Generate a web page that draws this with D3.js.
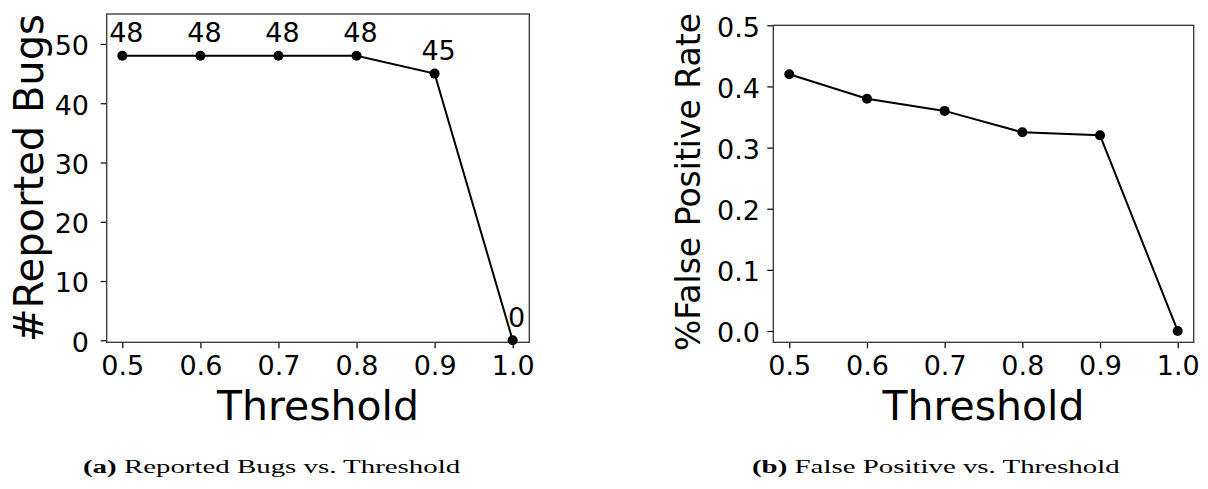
<!DOCTYPE html>
<html>
<head>
<meta charset="utf-8">
<script src="https://cdn.jsdelivr.net/npm/d3@7"></script>
<style>
  body { margin: 0; background: #fff; }
  .axis text { font-family: "DejaVu Sans", sans-serif; font-size: 27px; fill: #000; }
  .axis line { stroke: #000; stroke-width: 1.2; }
  .axis path { display: none; }
</style>
</head>
<body>
<svg width="1208" height="489"></svg>
<script>
const svg = d3.select("svg");

const thresholds = [0.5, 0.6, 0.7, 0.8, 0.9, 1.0];
const reportedBugs = [48, 48, 48, 48, 45, 0];
const falsePositiveRate = [0.42, 0.38, 0.36, 0.325, 0.32, 0.0];
const xTicks = [0.5, 0.6, 0.7, 0.8, 0.9, 1.0];
const bugTicks = [0, 10, 20, 30, 40, 50];
const fpTicks = [0.0, 0.1, 0.2, 0.3, 0.4, 0.5];

// panel a
const xa = d3.scaleLinear().domain([0.48, 1.0213]).range([106.7, 529.3]);
const ya = d3.scaleLinear().domain([-0.34, 55.06]).range([342.3, 14]);

// panel b
const xb = d3.scaleLinear().domain([0.4794, 1.0206]).range([773.3, 1193.7]);
const yb = d3.scaleLinear().domain([-0.0185, 0.5]).range([342.3, 25.3]);

function drawPanel(x, y, values, yTicks, yFmt, yPad) {
    const g = svg.append("g");
    const [x0, x1] = x.range();
    const [y0, y1] = y.range();

    g.append("g")
        .attr("class", "axis")
        .attr("transform", `translate(0,${y0})`)
        .call(d3.axisBottom(x).tickValues(xTicks).tickFormat(d3.format(".1f")).tickSize(6).tickPadding(8));

    g.append("g")
        .attr("class", "axis")
        .attr("transform", `translate(${x0},0)`)
        .call(d3.axisLeft(y).tickValues(yTicks).tickFormat(yFmt).tickSize(6).tickPadding(yPad))
        .selectAll("text").attr("dy", "0.4em");

    g.append("rect")
        .attr("x", x0).attr("y", y1)
        .attr("width", x1 - x0).attr("height", y0 - y1)
        .attr("fill", "none").attr("stroke", "#333").attr("stroke-width", 1.3);

    const pts = thresholds.map((t, i) => [t, values[i]]);
    const line = d3.line().x(d => x(d[0])).y(d => y(d[1]));

    g.append("path")
        .datum(pts)
        .attr("fill", "none")
        .attr("stroke", "#000")
        .attr("stroke-width", 2)
        .attr("d", line);

    g.selectAll("circle")
        .data(pts)
        .enter().append("circle")
        .attr("cx", d => x(d[0]))
        .attr("cy", d => y(d[1]))
        .attr("r", 5)
        .attr("fill", "#000");

    g.append("text")
        .attr("x", (x0 + x1) / 2)
        .attr("y", 420)
        .attr("text-anchor", "middle")
        .style("font-family", "DejaVu Sans, sans-serif")
        .style("font-size", "41px")
        .text("Threshold");

    return { g, pts };
}

const a = drawPanel(xa, ya, reportedBugs, bugTicks, d3.format("d"), 11.7);
const b = drawPanel(xb, yb, falsePositiveRate, fpTicks, d3.format(".1f"), 7.3);

// value labels on panel a
a.g.selectAll(".vlabel")
    .data(a.pts)
    .enter().append("text")
    .attr("class", "vlabel")
    .attr("x", d => xa(d[0]) + 4)
    .attr("y", d => ya(d[1]) - 13.5)
    .attr("text-anchor", "middle")
    .style("font-family", "DejaVu Sans, sans-serif")
    .style("font-size", "27px")
    .text(d => d[1]);

// y labels
svg.append("text")
    .attr("transform", `translate(43,178) rotate(-90)`)
    .attr("text-anchor", "middle")
    .style("font-family", "DejaVu Sans, sans-serif")
    .style("font-size", "40px")
    .text("#Reported Bugs");

svg.append("text")
    .attr("transform", `translate(700,182) rotate(-90)`)
    .attr("text-anchor", "middle")
    .style("font-family", "DejaVu Sans, sans-serif")
    .style("font-size", "33px")
    .text("%False Positive Rate");

// captions (wide, squat serif as in the source figure)
const captions = [
    { x: 83, tag: "(a)", text: " Reported Bugs vs. Threshold" },
    { x: 752, tag: "(b)", text: " False Positive vs. Threshold" }
];
captions.forEach(c => {
    const t = svg.append("text")
        .attr("transform", `translate(${c.x},473) scale(1.52,1)`)
        .style("font-family", "Liberation Serif, Times New Roman, serif")
        .style("font-size", "19px");
    t.append("tspan").style("font-weight", "bold").text(c.tag);
    t.append("tspan").text(c.text);
});
</script>
</body>
</html>
